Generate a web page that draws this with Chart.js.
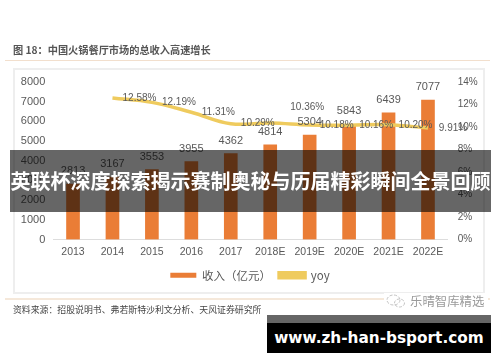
<!DOCTYPE html>
<html>
<head>
<meta charset="utf-8">
<script src="https://cdn.jsdelivr.net/npm/chart.js@4"></script>
<style>
    html, body { margin: 0; padding: 0; background: #fff; }
    #page { position: relative; width: 500px; height: 362px; overflow: hidden; font-family: "Noto Sans CJK SC", sans-serif; }
    #page > * { position: absolute; }
    #revenue-chart { left: 0; top: 0; filter: blur(0.45px); }
    .soft { filter: blur(0.35px); white-space: nowrap; }
    #frame { left: 13px; top: 68px; width: 468px; height: 222px; border: 2px solid #eeeeee; }
    #rule-top { left: 5px; top: 60px; width: 485px; height: 1px; background: #f2dfcd; }
    #rule-bottom { left: 5px; top: 298px; width: 485px; height: 2px; background: #f5e8da; }
    #fig-title { left: 13px; top: 42px; font-size: 10.2px; line-height: 16px; font-weight: 700; color: #555; }
    #source { left: 13px; top: 303px; font-size: 8.9px; line-height: 14px; color: #444; }
    #mark-bg { left: 384px; top: 293px; width: 104px; height: 17px; background: #fff; }
    #mark-icon { left: 386px; top: 294px; }
    #mark-text { left: 410px; top: 293px; font-size: 12.4px; line-height: 17px; color: #9a9a9a; }
    #band { left: 10px; top: 150px; width: 481px; height: 62px; background: rgba(0, 0, 0, 0.6); }
    #headline { left: 10px; top: 166px; width: 481px; text-align: center; font-size: 20px; line-height: 30px; font-weight: 700; color: #fff; white-space: nowrap; }
    #strip { left: 267px; top: 315px; width: 224px; height: 8px; background: rgba(0, 0, 0, 0.6); }
    #site { left: 267px; top: 323px; width: 224px; height: 30px; line-height: 30px; background: #000; color: #fff; text-align: center; font-family: "DejaVu Sans", sans-serif; font-size: 15.3px; font-weight: 700; white-space: nowrap; }
</style>
</head>
<body>
<div id="page">
    <div id="fig-title" class="soft">图 18：中国火锅餐厅市场的总收入高速增长</div>
    <div id="rule-top"></div>
    <div id="frame"></div>
    <canvas id="revenue-chart" width="500" height="362"></canvas>
    <div id="rule-bottom"></div>
    <div id="source" class="soft">资料来源：招股说明书、弗若斯特沙利文分析、天风证券研究所</div>
    <div id="mark-bg"></div>
    <svg id="mark-icon" width="20" height="15" viewBox="0 0 20 15" fill="none" stroke="#c4c4c4" stroke-width="1">
        <ellipse cx="7.5" cy="6" rx="6.5" ry="5" stroke-dasharray="3 1.5"/>
        <ellipse cx="13.5" cy="9" rx="5" ry="4" stroke-dasharray="3 1.5"/>
    </svg>
    <div id="mark-text" class="soft">乐晴智库精选</div>
    <div id="band"></div>
    <div id="headline">英联杯深度探索揭示赛制奥秘与历届精彩瞬间全景回顾</div>
    <div id="strip"></div>
    <div id="site">www.zh-han-bsport.com</div>
</div>

<script>
const categories = ["2013", "2014", "2015", "2016", "2017", "2018E", "2019E", "2020E", "2021E", "2022E"];
const revenue = [2813, 3167, 3553, 3955, 4362, 4814, 5304, 5843, 6439, 7077];
const yoy = [null, 12.58, 12.19, 11.31, 10.29, 10.36, 10.18, 10.16, 10.20, 9.91];
const yoyLabels = ["", "12.58%", "12.19%", "11.31%", "10.29%", "10.36%", "10.18%", "10.16%", "10.20%", "9.91%"];

const BAR_COLOR = "#ea7d36";
const LINE_COLOR = "#efcb5e";
const TEXT_COLOR = "#595959";
const NUM_FONT = '"Liberation Sans", Arial, sans-serif';

// labels on the picture are hand placed, most sit right of the point
function yoyLabelShift(index) {
    if (index === 5) return { x: 37, y: -16 };
    if (index === 9) return { x: 25, y: 0 };
    return { x: 27, y: 0 };
}

// draws the value labels over the bars and the line
const valueLabels = {
    id: "valueLabels",
    afterDatasetsDraw(chart) {
        const ctx = chart.ctx;
        const bars = chart.getDatasetMeta(0).data;
        const points = chart.getDatasetMeta(1).data;

        ctx.save();
        ctx.fillStyle = TEXT_COLOR;
        ctx.textAlign = "center";
        ctx.textBaseline = "middle";

        ctx.font = `11px ${NUM_FONT}`;
        bars.forEach((bar, i) => {
            ctx.fillText(String(revenue[i]), bar.x, bar.y - 13);
        });

        ctx.font = `10px ${NUM_FONT}`;
        points.forEach((point, i) => {
            if (yoy[i] === null) return;
            const shift = yoyLabelShift(i);
            ctx.fillText(yoyLabels[i], point.x + shift.x, point.y + shift.y);
        });
        ctx.restore();
    }
};

const ctx = document.getElementById("revenue-chart").getContext("2d");

new Chart(ctx, {
    data: {
        labels: categories,
        datasets: [
            {
                type: "bar",
                label: "收入（亿元）",
                data: revenue,
                yAxisID: "y",
                backgroundColor: BAR_COLOR,
                borderColor: BAR_COLOR,
                barThickness: 13,
                order: 2
            },
            {
                type: "line",
                label: "yoy",
                data: yoy,
                yAxisID: "y1",
                borderColor: LINE_COLOR,
                backgroundColor: LINE_COLOR,
                borderWidth: 3.5,
                tension: 0.4,
                pointRadius: 0,
                order: 1
            }
        ]
    },
    options: {
        responsive: false,
        animation: false,
        layout: {
            padding: { top: 82, bottom: 71, left: 0, right: 0 }
        },
        plugins: {
            tooltip: { enabled: false },
            legend: {
                position: "bottom",
                labels: {
                    boxWidth: 26,
                    boxHeight: 5,
                    padding: 8,
                    color: TEXT_COLOR,
                    font: { size: 11.5, family: '"Noto Sans CJK SC", sans-serif' },
                    sort: (a, b) => a.datasetIndex - b.datasetIndex
                }
            }
        },
        scales: {
            x: {
                grid: { display: false, drawTicks: false },
                border: { color: "#dddddd" },
                ticks: {
                    color: TEXT_COLOR,
                    padding: 6,
                    maxRotation: 0,
                    autoSkip: false,
                    font: { size: 10.5, family: NUM_FONT }
                },
                afterFit(scale) { scale.height = 22; }
            },
            y: {
                position: "left",
                min: 0,
                max: 8000,
                grid: { display: false, drawTicks: false },
                border: { display: false },
                ticks: {
                    stepSize: 1000,
                    color: TEXT_COLOR,
                    padding: 8,
                    font: { size: 11, family: NUM_FONT },
                    callback: value => String(value)
                },
                afterFit(scale) { scale.width = 53.3; }
            },
            y1: {
                position: "right",
                min: 0,
                max: 14,
                grid: { display: false, drawTicks: false },
                border: { display: false },
                ticks: {
                    stepSize: 2,
                    color: TEXT_COLOR,
                    padding: 10,
                    font: { size: 10, family: NUM_FONT },
                    callback: value => `${value}%`
                },
                afterFit(scale) { scale.width = 52.3; }
            }
        }
    },
    plugins: [valueLabels]
});
</script>
</body>
</html>
